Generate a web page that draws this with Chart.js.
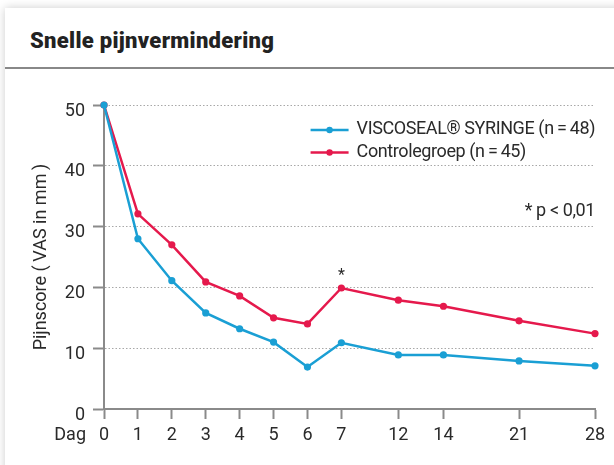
<!DOCTYPE html>
<html>
<head>
<meta charset="utf-8">
<script src="https://cdn.jsdelivr.net/npm/chart.js@4"></script>
<style>
  html, body { margin: 0; padding: 0; width: 614px; height: 465px; overflow: hidden; background: #fff; }
  .card { position: absolute; left: 5px; top: 8px; width: 640px; height: 480px; background: #fff;
          box-shadow: 0 0 9px rgba(0, 0, 0, 0.2); }
  .title { position: absolute; left: 30px; top: 28px; font: 900 22px Roboto, sans-serif; letter-spacing: 0.3px; color: #222; }
  .rule { position: absolute; left: 5px; top: 67px; width: 620px; height: 2px; background: #888; }
  canvas { position: absolute; left: 0; top: 0; }
</style>
</head>
<body>
<div class="card"></div>
<div class="title">Snelle pijnvermindering</div>
<div class="rule"></div>
<canvas id="chart" width="614" height="465"></canvas>
<script>
/* ------------------------------------------------------------------ */
/*  Data                                                               */
/* ------------------------------------------------------------------ */

var days = [0, 1, 2, 3, 4, 5, 6, 7, 12, 14, 21, 28];
var viscoseal = [50, 28.0, 21.1, 15.8, 13.2, 11.0, 6.9, 10.9, 8.9, 8.9, 7.9, 7.1];
var control = [50, 32.1, 27.0, 20.9, 18.6, 15.0, 14.0, 19.9, 17.9, 16.9, 14.5, 12.4];
var seriesLabels = ["VISCOSEAL\u00AE SYRINGE (n\u2009=\u200948)", "Controlegroep (n\u2009=\u200945)"];
var significantDays = [7];
var yTicks = [0, 10, 20, 30, 40, 50];

/* ------------------------------------------------------------------ */
/*  Day axis: first week one slot per day, later visits compressed     */
/* ------------------------------------------------------------------ */

var daySlots = [0, 1, 2, 3, 4, 5, 6, 7, 8.68, 10.01, 12.24, 14.48];

function dayToSlot(d) {
  for (var i = 1; i < days.length; i++) {
    if (d <= days[i]) {
      var t = (d - days[i - 1]) / (days[i] - days[i - 1]);
      return daySlots[i - 1] + t * (daySlots[i] - daySlots[i - 1]);
    }
  }
  return daySlots[daySlots.length - 1];
}

class DayScale extends Chart.LinearScale {
  getPixelForValue(value) {
    if (value === null || isNaN(value)) return NaN;
    return this.getPixelForDecimal(dayToSlot(value) / daySlots[daySlots.length - 1]);
  }
}
DayScale.id = "day";
DayScale.defaults = Chart.LinearScale.defaults;
Chart.register(DayScale);

/* ------------------------------------------------------------------ */
/*  Palette                                                            */
/* ------------------------------------------------------------------ */

var c = {
  blue: "#1a9fd4",
  red: "#e5194c",
  text: "#2a2a2a",
  axis: "#8a8a8a",
  grid: "#a8a8a8",
};
var FONT = "Roboto, sans-serif";

/* ------------------------------------------------------------------ */
/*  Legend, significance marks and "Dag" label                         */
/* ------------------------------------------------------------------ */

var extras = {
  id: "extras",
  afterDatasetsDraw: function (chart) {
    var ctx = chart.ctx, area = chart.chartArea;
    var x = chart.scales.x, y = chart.scales.y;
    ctx.save();

    // legend, top right inside the plot
    ctx.font = "18px " + FONT;
    ctx.letterSpacing = "-0.4px";
    var widths = chart.data.datasets.map(function (ds) { return ctx.measureText(ds.label).width; });
    var textX = area.right - Math.max.apply(null, widths);
    chart.data.datasets.forEach(function (ds, i) {
      var ly = area.top + 25 + i * 22.5;
      ctx.strokeStyle = ds.borderColor;
      ctx.lineWidth = ds.borderWidth;
      ctx.beginPath();
      ctx.moveTo(textX - 46, ly);
      ctx.lineTo(textX - 8, ly);
      ctx.stroke();
      ctx.fillStyle = ds.borderColor;
      ctx.beginPath();
      ctx.arc(textX - 27, ly, 3.2, 0, Math.PI * 2);
      ctx.fill();
      ctx.fillStyle = c.text;
      ctx.textBaseline = "alphabetic";
      ctx.textAlign = "left";
      ctx.fillText(ds.label, textX, ly + 4);
    });

    // significance note
    ctx.textAlign = "right";
    ctx.fillText("* p < 0,01", area.right, area.top + 111);

    // asterisk over significant days
    ctx.letterSpacing = "0px";
    ctx.font = "16px " + FONT;
    ctx.textAlign = "center";
    significantDays.forEach(function (d) {
      var v = control[days.indexOf(d)];
      ctx.fillText("*", x.getPixelForValue(d), y.getPixelForValue(v) - 8);
    });

    // "Dag" in front of the day ticks
    ctx.font = "18px " + FONT;
    ctx.textAlign = "right";
    ctx.textBaseline = "middle";
    ctx.fillText("Dag", x.getPixelForValue(0) - 18, x.top + 10 + 6 + 10.8);

    ctx.restore();
  },
};

/* ------------------------------------------------------------------ */
/*  Chart                                                              */
/* ------------------------------------------------------------------ */

function pairs(values) {
  return values.map(function (v, i) { return { x: days[i], y: v }; });
}

new Chart(document.getElementById("chart"), {
  type: "line",
  data: {
    datasets: [
      { label: seriesLabels[0], data: pairs(viscoseal), borderColor: c.blue, backgroundColor: c.blue,
        borderWidth: 2.5, pointRadius: 3.6, pointBorderWidth: 0, tension: 0, clip: false },
      { label: seriesLabels[1], data: pairs(control), borderColor: c.red, backgroundColor: c.red,
        borderWidth: 2.5, pointRadius: 3.6, pointBorderWidth: 0, tension: 0, clip: false },
    ],
  },
  options: {
    responsive: false,
    animation: false,
    events: [],
    layout: { padding: { top: 105, right: 19, bottom: 0, left: 0 } },
    plugins: { legend: { display: false }, tooltip: { enabled: false } },
    scales: {
      x: {
        type: "day",
        min: 0,
        max: 28,
        afterBuildTicks: function (scale) {
          scale.ticks = days.map(function (d) { return { value: d }; });
        },
        afterFit: function (scale) { scale.height = 56; },
        ticks: { color: c.text, font: { family: FONT, size: 18 }, padding: 6, autoSkip: false, maxRotation: 0 },
        grid: { drawOnChartArea: false, drawTicks: true, tickLength: 10, tickColor: c.axis, tickWidth: 2 },
        border: { color: c.axis, width: 2 },
      },
      y: {
        min: 0,
        max: 50,
        afterBuildTicks: function (scale) {
          scale.ticks = yTicks.map(function (v) { return { value: v }; });
        },
        afterFit: function (scale) { scale.width = 104; },
        ticks: { color: c.text, font: { family: FONT, size: 18 }, padding: 8, labelOffset: 6 },
        grid: { color: c.grid, lineWidth: 1, drawTicks: true, tickLength: 11, tickColor: c.axis, tickWidth: 2 },
        border: { color: c.axis, width: 2, dash: [1.5, 2] },
        title: { display: true, text: "Pijnscore (\u2009VAS in mm\u2009)", color: c.text,
                 font: { family: FONT, size: 18 }, padding: { top: 31 } },
      },
    },
  },
  plugins: [extras],
});
</script>
</body>
</html>
